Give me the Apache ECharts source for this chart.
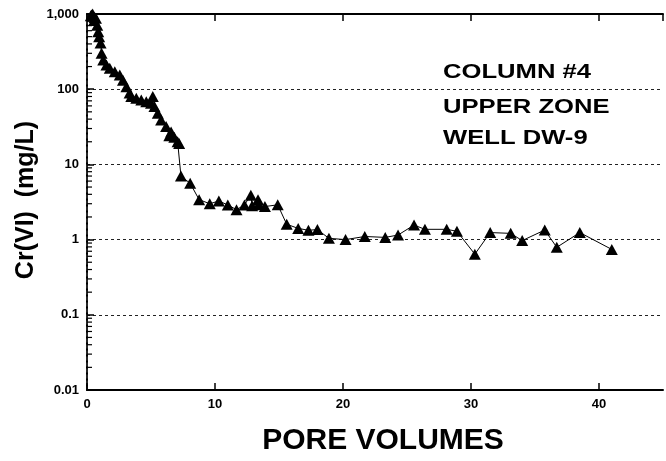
<!DOCTYPE html>
<html>
<head>
<meta charset="utf-8">
<script src="https://cdn.jsdelivr.net/npm/echarts@6/dist/echarts.min.js"></script>
<style>html,body{margin:0;padding:0;background:#fff}#c{width:666px;height:461px}</style>
</head>
<body>
<div id="c"></div>
<script>
var poreVolumes = [0.3,0.36,0.44,0.55,0.6,0.7,0.8,0.88,0.95,1.06,1.14,1.27,1.52,1.78,2.17,2.56,2.81,3.08,3.33,3.46,3.85,4.24,4.63,5.0,5.14,5.27,5.53,5.79,6.18,6.43,6.57,6.82,7.08,7.2,7.34,8.06,8.76,9.59,10.3,11.0,11.68,12.3,12.8,12.9,13.36,13.4,13.9,14.9,15.6,16.5,17.3,18.0,18.9,20.2,21.7,23.3,24.3,25.55,26.4,28.1,28.9,30.3,31.5,33.1,34.0,35.76,36.7,38.5,41.0];
var crVI = [950,970,1000,820,900,880,710,580,500,410,300,245,210,190,170,155,132,108,89,80,76,72,68,65,80,59,48,39,32,24,27,23,20,19,7.0,5.6,3.4,3.0,3.26,2.89,2.5,2.89,3.9,2.83,3.4,2.9,2.75,2.9,1.6,1.41,1.33,1.36,1.04,1.0,1.1,1.07,1.15,1.56,1.37,1.37,1.29,0.64,1.24,1.21,0.97,1.34,0.79,1.24,0.74];
var yTickLabels = {0.01:'0.01',0.1:'0.1',1:'1',10:'10',100:'100',1000:'1,000'};
var xTickValues = [0,10,20,30,40];
var minorTickValues = [0.02,0.03,0.04,0.05,0.06,0.07,0.08,0.09,0.2,0.3,0.4,0.5,0.6,0.7,0.8,0.9,2,3,4,5,6,7,8,9,20,30,40,50,60,70,80,90,200,300,400,500,600,700,800,900];
var labelLines = ['COLUMN #4','UPPER ZONE','WELL DW-9'];
var xTitle = 'PORE VOLUMES';
var yTitle = 'Cr(VI)  (mg/L)';

var FONT = "'Liberation Sans', Arial, Helvetica, sans-serif";
var pts = poreVolumes.map(function(x,i){return [x, crVI[i]];});
var labelY = [72, 107, 138];

var chart = echarts.init(document.getElementById('c'), null, {renderer:'canvas'});
chart.setOption({
  animation:false,
  backgroundColor:'#fff',
  grid:{left:87, right:3, top:14, bottom:71},
  xAxis:[{
    type:'value', min:0, max:45, interval:10, position:'bottom',
    axisLine:{show:true, lineStyle:{color:'#000', width:2}},
    axisTick:{show:true, inside:true, length:7, lineStyle:{color:'#000', width:1.5}},
    axisLabel:{show:true, showMaxLabel:false, color:'#000', fontFamily:FONT, fontWeight:'bold', fontSize:13, margin:8},
    splitLine:{show:false}
  },{
    type:'value', min:0, max:45, interval:10, position:'top',
    axisLine:{show:true, lineStyle:{color:'#000', width:2}},
    axisTick:{show:true, inside:true, length:7, lineStyle:{color:'#000', width:1.5}},
    axisLabel:{show:false}, splitLine:{show:false}
  }],
  yAxis:[{
    type:'log', logBase:10, min:0.01, max:1000,
    axisLine:{show:true, lineStyle:{color:'#000', width:2}},
    axisTick:{show:true, inside:true, length:7, lineStyle:{color:'#000', width:1.5}},
    axisLabel:{color:'#000', fontFamily:FONT, fontWeight:'bold', fontSize:13, margin:8,
      formatter:function(v){var k=+v.toPrecision(3); return yTickLabels[k]!==undefined?yTickLabels[k]:'';}},
    splitLine:{show:true, lineStyle:{color:'#222', width:1, type:[3,3]}}
  },{
    type:'log', logBase:10, min:0.01, max:1000, position:'right',
    axisLine:{show:true, lineStyle:{color:'#333', width:1.5, type:[3,3]}},
    axisTick:{show:false}, axisLabel:{show:false}, splitLine:{show:false}
  }],
  series:[{
    type:'line', data:pts, symbol:'triangle', symbolSize:[12,11],
    itemStyle:{color:'#000'}, lineStyle:{color:'#000', width:1}, z:3
  },{
    type:'custom', data:minorTickValues.map(function(v){return [0,v];}), silent:true, clip:false, z:4,
    renderItem:function(params, api){
      var p = api.coord([0, api.value(1)]);
      return {type:'line', shape:{x1:p[0], y1:p[1], x2:p[0]+5, y2:p[1]}, style:{stroke:'#000', lineWidth:1.2}};
    }
  }],
  graphic:[
    {type:'text', x:443, y:labelY[0], scaleX:1.22, style:{text:labelLines[0], fontFamily:FONT, fontWeight:'bold', fontSize:21, fill:'#000', align:'left', verticalAlign:'middle'}},
    {type:'text', x:443, y:labelY[1], scaleX:1.22, style:{text:labelLines[1], fontFamily:FONT, fontWeight:'bold', fontSize:21, fill:'#000', align:'left', verticalAlign:'middle'}},
    {type:'text', x:443, y:labelY[2], scaleX:1.22, style:{text:labelLines[2], fontFamily:FONT, fontWeight:'bold', fontSize:21, fill:'#000', align:'left', verticalAlign:'middle'}},
    {type:'text', x:383, y:441, style:{text:xTitle, fontFamily:FONT, fontWeight:'bold', fontSize:30, fill:'#000', align:'center', verticalAlign:'middle'}},
    {type:'text', x:26, y:200, rotation:Math.PI/2, style:{text:yTitle, fontFamily:FONT, fontWeight:'bold', fontSize:25, fill:'#000', align:'center', verticalAlign:'middle'}}
  ]
});
</script>
</body>
</html>
